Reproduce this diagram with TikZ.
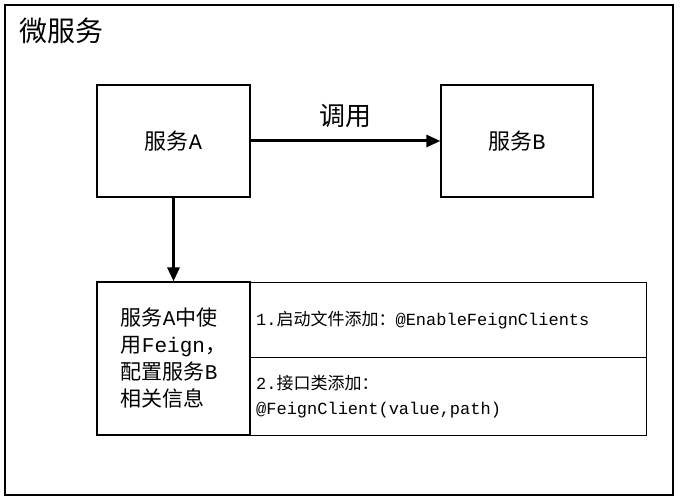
\documentclass[tikz,border=0pt]{standalone}
\usepackage{fontspec}
\usetikzlibrary{arrows.meta}
\setmainfont{Noto Sans CJK SC}
\newfontfamily\lat{Liberation Mono}
\begin{document}
\begin{tikzpicture}[x=1pt,y=-1pt,
  box/.style={draw,line width=1.3pt},
  arr/.style={-{Triangle[length=14pt,width=12pt]},line width=3pt}]
\useasboundingbox (0,0) rectangle (680,500);
\draw[line width=1.3pt] (5,5) rectangle (673,495);
\node[anchor=west,font=\fontsize{28}{30}\selectfont] (title) at (16,31) {微服务};
\node[box,minimum width=153pt,minimum height=112pt,font=\fontsize{22}{24}\selectfont] (a) at (173.5,141) {服务{\lat A}};
\node[box,minimum width=152pt,minimum height=112pt,font=\fontsize{22}{24}\selectfont] (b) at (517,141) {服务{\lat B}};
\draw[arr] (a) -- node[above=8pt,font=\fontsize{26}{28}\selectfont] (lab) {调用} (b);
\node[box,minimum width=153pt,minimum height=153pt,align=left,font=\fontsize{21}{27}\selectfont] (c) at (173.5,358.5) {服务{\lat A}中使\\用{\lat Feign}，\\配置服务{\lat B}\\相关信息};
\node[box,minimum width=396pt,minimum height=75pt,anchor=north west,font=\fontsize{17}{19}\selectfont,text width=385pt,align=left] (d) at (250,282) {{\lat 1.}启动文件添加：{\lat @EnableFeignClients}};
\node[box,minimum width=396pt,minimum height=78pt,anchor=north west,font=\fontsize{17}{25}\selectfont,text width=385pt,align=left] (e) at (250,357) {{\lat 2.}接口类添加：\\{\lat @FeignClient(value,path)}};
\draw[arr] (a) -- (c);
\end{tikzpicture}
\end{document}
